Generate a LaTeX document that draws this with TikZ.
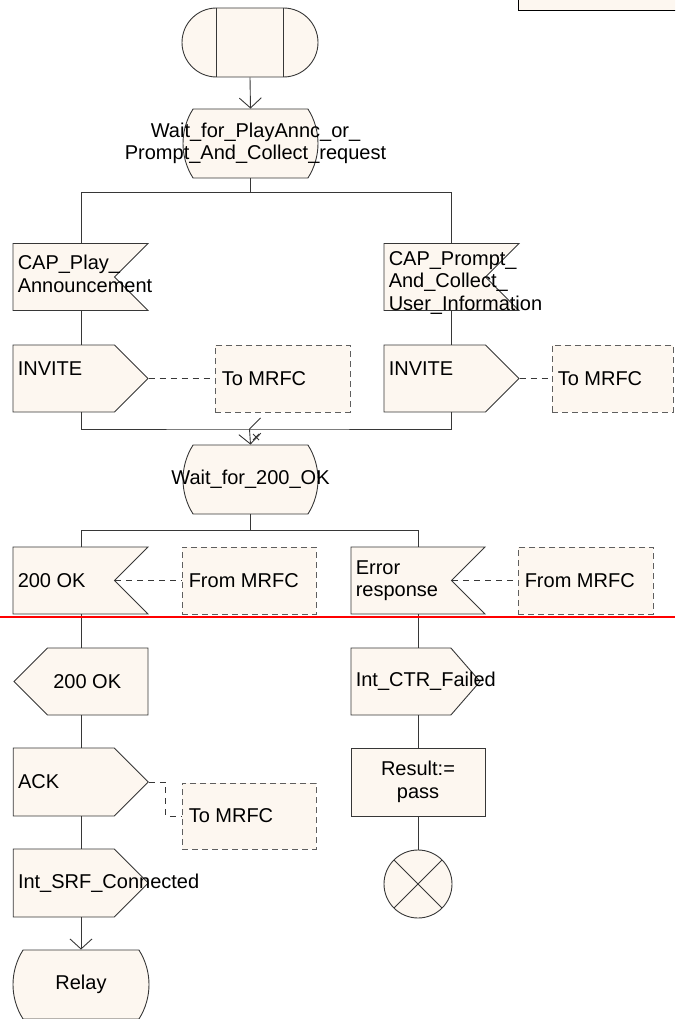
\documentclass[tikz,border=0pt]{standalone}
\usepackage{fontspec}
\newfontfamily\sdlfont{Liberation Sans}
\newcommand\sdltext{\sdlfont\fontsize{20}{22.5}\selectfont}
\usetikzlibrary{shapes.symbols, shapes.misc, arrows.meta}
\definecolor{sdlfill}{RGB}{253,247,240}
\definecolor{sdlline}{RGB}{55,55,55}
\definecolor{remarkline}{RGB}{95,95,95}
\tikzset{
  >={Straight Barb[length=10pt,width=22pt]},
  every label/.style={font=\sdltext, inner sep=0pt, align=left, text=black},
  sdl/.style={draw=sdlline, fill=sdlfill, line width=0.9pt, inner sep=0pt, font=\sdltext},
  startsym/.style={sdl, rounded rectangle, rounded rectangle arc length=180,
    minimum width=136pt, minimum height=69pt},
  sdlstate/.style={sdl, rounded rectangle, rounded rectangle arc length=65,
    minimum width=135pt, minimum height=69pt},
  insig/.style={sdl, signal, signal to=nowhere, signal from=east, signal pointer angle=90,
    minimum width=135pt, minimum height=67pt},
  outsig/.style={sdl, signal, signal to=east, signal pointer angle=90,
    minimum width=135pt, minimum height=67pt},
  task/.style={sdl, rectangle, minimum width=134pt, minimum height=68pt, align=center},
  remark/.style={rectangle, draw=remarkline, fill=sdlfill, line width=0.9pt,
    dash pattern=on 6pt off 4pt, minimum width=135pt, minimum height=67pt},
  stopsym/.style={sdl, circle, minimum size=68pt,
    path picture={\draw[sdlline, line width=0.9pt]
      (path picture bounding box.north west) -- (path picture bounding box.south east)
      (path picture bounding box.south west) -- (path picture bounding box.north east);}},
  hdrbox/.style={rectangle, draw=black, fill=sdlfill, line width=0.9pt,
    minimum width=164pt, minimum height=60pt},
  flow/.style={draw=sdlline, line width=0.9pt},
  remarkflow/.style={draw=sdlline, line width=0.9pt, dash pattern=on 6pt off 5pt},
  pagebreak/.style={draw=red, line width=1.6pt},
}

\begin{document}
\begin{tikzpicture}[x=1pt, y=-1pt]
\useasboundingbox (0,0) rectangle (675,1019);
\clip (0,0) rectangle (675,1019);

% columns of the flow lines
\coordinate (lcol) at (81,0);
\coordinate (rcol) at (451.5,0);
\coordinate (ecol) at (418,0);

% page header, cut off at the top
\node[hdrbox] (hdr) at (600,-20) {};

% start and first state
\node[startsym] (start) at (250,42.5) {};
\draw[flow] ([xshift=-33.5pt]start.north) -- ([xshift=-33.5pt]start.south)
            ([xshift=33.5pt]start.north) -- ([xshift=33.5pt]start.south);
\node[sdlstate, label={[align=center,xshift=5pt]center:Wait\_for\_PlayAnnc\_or\_\\Prompt\_And\_Collect\_request}] (st1) at (250.5,143.5) {};

% the two requests
\node[insig, label={[anchor=west,xshift=5pt,yshift=3pt]west:CAP\_Play\_\\Announcement}] (cap1) at (63.75,277) {};
\node[insig, label={[anchor=west,xshift=5pt,yshift=-6pt]west:CAP\_Prompt\_\\And\_Collect\_\\User\_Information}] (cap2) at (434.75,277) {};
\node[outsig, label={[anchor=west,xshift=5pt,yshift=10pt]west:INVITE}] (inv1) at (63.75,378.5) {};
\node[remark, label={[anchor=west,xshift=7pt]west:To MRFC}] (to1) at (282.5,378.5) {};
\node[outsig, label={[anchor=west,xshift=5pt,yshift=10pt]west:INVITE}] (inv2) at (434.75,378.5) {};
\node[remark, minimum width=121pt, label={[anchor=west,xshift=6pt]west:To MRFC}] (to2) at (612.5,378.5) {};
\coordinate (mrg) at (249.5,429);

% waiting for the answer
\node[sdlstate, label=center:Wait\_for\_200\_OK] (st2) at (250.5,479.5) {};
\node[insig, label={[anchor=west,xshift=5pt]west:200 OK}] (ok1) at (63.75,580.5) {};
\node[remark, minimum width=134pt, label={[anchor=west,xshift=7pt]west:From MRFC}] (fr1) at (249,580.5) {};
\node[insig, minimum width=134pt, label={[anchor=west,xshift=5pt]west:Error\\response}] (err) at (401.25,580.5) {};
\node[remark, label={[anchor=west,xshift=7pt]west:From MRFC}] (fr2) at (585.5,580.5) {};

% success branch
\node[outsig, signal to=west, minimum width=134pt, label={[xshift=-10.5pt]center:200 OK}] (ok2) at (97.75,681.5) {};
\node[outsig, minimum height=68pt, label={[anchor=west,xshift=5pt]west:ACK}] (ack) at (63.75,782) {};
\node[remark, minimum width=134pt, minimum height=66pt, label={[anchor=west,xshift=7pt]west:To MRFC}] (to3) at (249,816) {};
\node[outsig, minimum height=68pt, label={[anchor=west,xshift=5pt]west:Int\_SRF\_Connected}] (srf) at (63.75,883) {};
\node[sdlstate, minimum width=136pt, label=center:Relay] (relay) at (81,984.5) {};

% failure branch
\node[outsig, minimum width=129pt, signal pointer angle=98, label={[anchor=west,xshift=5pt]west:Int\_CTR\_Failed}] (ctr) at (400.95,681.5) {};
\node[task] (res) at (418,782) {Result:=\\pass};
\node[stopsym] (stop) at (418,884) {};

% flow lines
\draw[flow, ->] (start.south) -- (st1.north);
\draw[flow] (st1.south) -- ++(0,14) -| (cap1.north -| lcol)
            (st1.south) ++(0,14) -| (cap2.north -| rcol);
\draw[flow] (cap1.south -| lcol) -- (inv1.north -| lcol);
\draw[flow] (cap2.south -| rcol) -- (inv2.north -| rcol);
\draw[flow] (inv1.south -| lcol) |- (mrg) -| (inv2.south -| rcol);
\draw[flow, ->] (mrg) -- (st2.north);
\draw[flow] (mrg) -- ++(11,-11);
\draw[flow] (253,434) -- (259,440) (253,440) -- (259,434);
\draw[flow] (st2.south) -- ++(0,16) -| (ok1.north -| lcol)
            (st2.south) ++(0,16) -| (err.north -| ecol);
\draw[flow] (ok1.south -| lcol) -- (ok2.north -| lcol);
\draw[flow] (ok2.south -| lcol) -- (ack.north -| lcol);
\draw[flow] (ack.south -| lcol) -- (srf.north -| lcol);
\draw[flow, ->] (srf.south -| lcol) -- (relay.north);
\draw[flow] (err.south -| ecol) -- (ctr.north -| ecol);
\draw[flow] (ctr.south -| ecol) -- (res.north);
\draw[flow] (res.south) -- (stop.north);

% signal routes
\draw[remarkflow] (inv1.east) -- (to1.west);
\draw[remarkflow] (inv2.east) -- (to2.west);
\draw[remarkflow] (ok1.east) -- (fr1.west);
\draw[remarkflow] (err.east) -- (fr2.west);
\draw[remarkflow] (ack.east) -- ++(17,0) |- (to3.west);

% page break
\draw[pagebreak] (0,617) -- (675,617);
\end{tikzpicture}
\end{document}
